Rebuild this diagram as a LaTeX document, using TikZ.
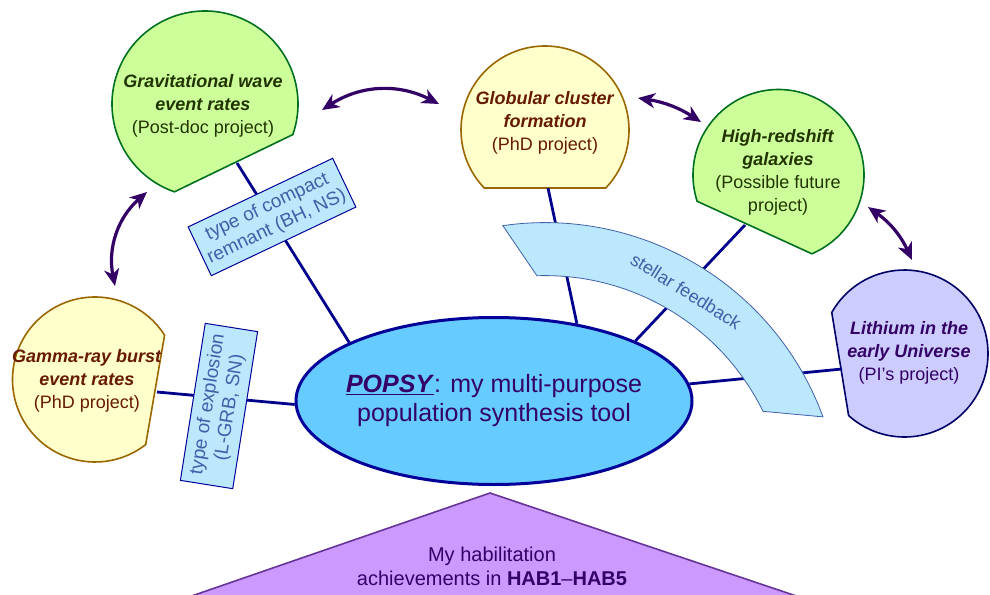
\documentclass[tikz,border=0pt]{standalone}
\usepackage{fontspec}
\setmainfont{Liberation Sans}
\usepackage{tikz}
\usetikzlibrary{shapes.geometric}
\usetikzlibrary{arrows.meta}

\definecolor{gwfill}{RGB}{204,255,153}
\definecolor{gwedge}{RGB}{0,112,32}
\definecolor{gwtext}{RGB}{34,51,0}
\definecolor{gcfill}{RGB}{255,255,204}
\definecolor{gcedge}{RGB}{153,102,0}
\definecolor{gctext}{RGB}{102,26,0}
\definecolor{lifill}{RGB}{204,204,255}
\definecolor{liedge}{RGB}{0,0,102}
\definecolor{litext}{RGB}{51,0,102}
\definecolor{popfill}{RGB}{102,204,255}
\definecolor{popedge}{RGB}{0,0,153}
\definecolor{linkcol}{RGB}{0,0,140}
\definecolor{tagfill}{RGB}{187,232,252}
\definecolor{tagtext}{RGB}{64,96,170}
\definecolor{habfill}{RGB}{204,153,255}
\definecolor{habedge}{RGB}{102,51,153}
\definecolor{arrowcol}{RGB}{51,0,102}

\begin{document}
\begin{tikzpicture}[x=1pt,y=1pt,
  blob/.style={line width=1.6pt},
  blobtext/.style={font=\fontsize{18}{23}\selectfont,align=center},
  link/.style={draw=linkcol,line width=2.8pt},
  tag/.style={draw=popedge,fill=tagfill,text=tagtext,line width=1pt,font=\fontsize{19}{22}\selectfont,align=center,inner sep=0pt},
  relate/.style={draw=arrowcol,line width=3.2pt,{Stealth[length=17pt,width=15pt,inset=5pt]}-{Stealth[length=17pt,width=15pt,inset=5pt]}}]
\useasboundingbox (0,0) rectangle (990,-594);
\clip (0,0) rectangle (990,-594);

% project circles, each cut by a chord on the side of the link
\draw[blob,draw=gwedge,fill=gwfill] (205,-104) ++(-19.2:93) arc[start angle=-19.2,end angle=250.8,radius=93] -- cycle;
\draw[blob,draw=gcedge,fill=gcfill] (545,-130) ++(-43.7:84) arc[start angle=-43.7,end angle=223.7,radius=84] -- cycle;
\draw[blob,draw=gwedge,fill=gwfill] (778.5,-175) ++(-67.1:85.5) arc[start angle=-67.1,end angle=197.9,radius=85.5] -- cycle;
\draw[blob,draw=liedge,fill=lifill] (904.5,-353.5) ++(228:83.5) arc[start angle=228,end angle=510.6,radius=83.5] -- cycle;
\draw[blob,draw=gcedge,fill=gcfill] (95,-379.5) ++(32.5:82.5) arc[start angle=32.5,end angle=307.9,radius=82.5] -- cycle;

\node[blobtext,text=gwtext] (gw) at (203,-106) {\textbf{\textit{Gravitational wave}}\\\textbf{\textit{event rates}}\\(Post-doc project)};
\node[blobtext,text=gctext] (gc) at (545,-123) {\textbf{\textit{Globular cluster}}\\\textbf{\textit{formation}}\\(PhD project)};
\node[blobtext,text=gwtext] (hz) at (778,-172) {\textbf{\textit{High-redshift}}\\\textbf{\textit{galaxies}}\\(Possible future\\project)};
\node[blobtext,text=litext] (li) at (909,-353) {\textbf{\textit{Lithium in the}}\\\textbf{\textit{early Universe}}\\(PI’s project)};
\node[blobtext,text=gctext] (grb) at (87,-381) {\textbf{\textit{Gamma-ray burst}}\\\textbf{\textit{event rates}}\\(PhD project)};

% central tool
\node[ellipse,draw=popedge,fill=popfill,line width=3pt,minimum width=396pt,minimum height=167pt,inner sep=0pt,inner xsep=-15pt,
  text=litext,font=\fontsize{25}{29}\selectfont,align=center] (popsy) at (494,-401)
  {\underline{\textbf{\textit{POPSY}}}: my multi-purpose\\population synthesis tool};

\coordinate (gw-foot) at (237,-163);
\coordinate (gc-foot) at (548,-188);
\coordinate (hz-foot) at (745,-225);
\coordinate (li-foot) at (842,-369);
\coordinate (grb-foot) at (157,-392);

\draw[link] (gw-foot) -- (popsy.158);
\draw[link] (gc-foot) -- (popsy.43);
\draw[link] (hz-foot) -- (popsy.23);
\draw[link] (li-foot) -- (popsy.5);
\draw[link] (grb-foot) -- (popsy.181);

\node[tag,rotate=25.4,minimum width=160pt,minimum height=54pt] (remnant) at (272,-217) {type of compact\\remnant (BH, NS)};
\node[tag,rotate=81,minimum width=159pt,minimum height=53pt] (explosion) at (219,-406) {type of explosion\\(L-GRB, SN)};

% stellar feedback band
\coordinate (fb) at (545,-518.6);
\draw[fill=tagfill,draw=tagtext,line width=0.8pt] ([shift={(98.2:296)}]fb) arc[start angle=98.2,end angle=20.1,radius=296]
  -- ([shift={(26.2:243)}]fb) arc[start angle=26.2,end angle=91.9,radius=243] -- cycle;
\node[rotate=-32,text=tagtext,font=\fontsize{18}{21}\selectfont] (feedback) at (686,-291) {stellar feedback};

% links between projects
\coordinate (gw-e) at (322,-110);
\coordinate (gc-w) at (439,-104);
\coordinate (gc-e) at (638,-98);
\coordinate (hz-w) at (701,-122);
\coordinate (gw-s) at (147,-192);
\coordinate (grb-n) at (115,-286);
\coordinate (hz-s) at (868,-207);
\coordinate (li-n) at (912,-260);
\draw[relate] (gw-e) to[bend left=30] (gc-w);
\draw[relate] (gc-e) to[bend left=12] (hz-w);
\draw[relate] (gw-s) to[bend right=30] (grb-n);
\draw[relate] (hz-s) to[bend left=15] (li-n);

% habilitation
\draw[fill=habfill,draw=habedge,line width=1.6pt] (490,-493) -- (838,-610) -- (151,-610) -- cycle;
\node[text=litext,font=\fontsize{20}{24}\selectfont,align=center] (hab) at (492,-566) {My habilitation\\achievements in \textbf{HAB1}--\textbf{HAB5}};
\end{tikzpicture}
\end{document}
